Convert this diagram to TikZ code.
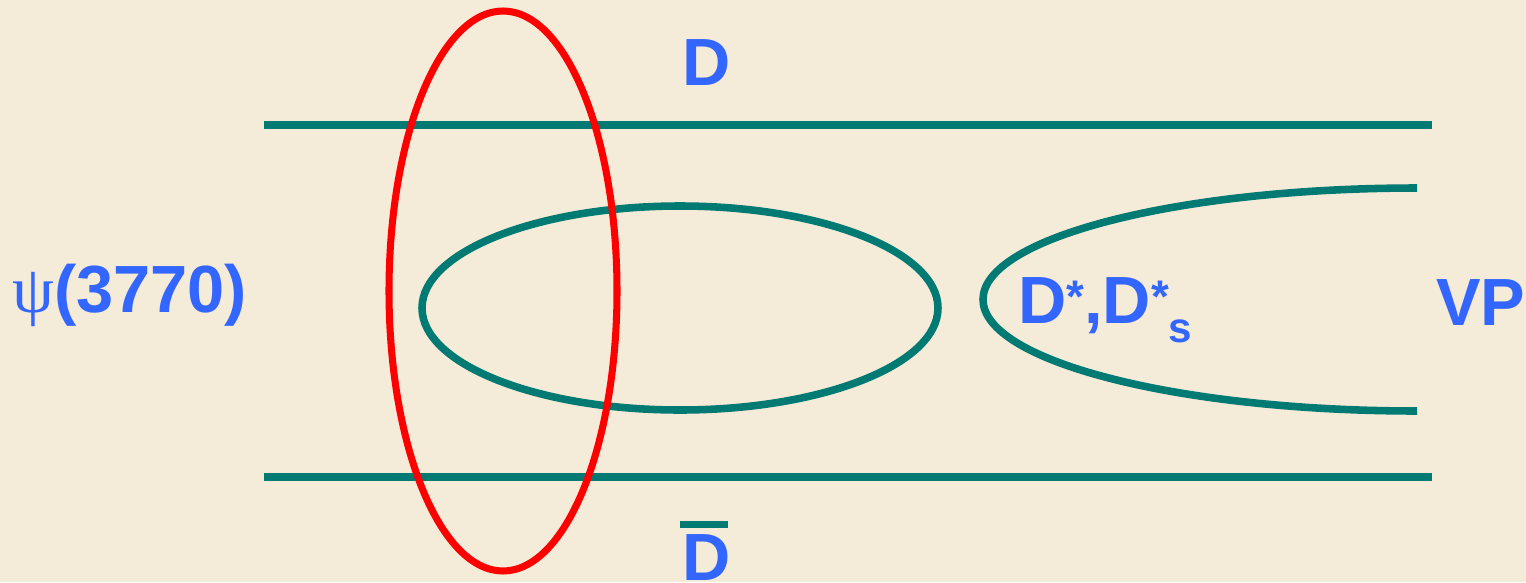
\documentclass[tikz,border=0pt]{standalone}
\usepackage{fontspec}
\setmainfont{Liberation Sans}
\newfontfamily\psifont{Liberation Serif}
\usetikzlibrary{positioning}
\definecolor{parchment}{HTML}{F4EBD9}
\definecolor{chanteal}{HTML}{007A72}
\definecolor{labelblue}{HTML}{3366FF}
\definecolor{tagred}{HTML}{FF0000}
\newcommand{\upstar}{\raisebox{6pt}{\fontsize{26}{26}\selectfont *}}

\begin{document}
\begin{tikzpicture}[x=0.02cm, y=-0.02cm,
  lbl/.style={text=labelblue, inner sep=0pt, font=\fontsize{38}{44}\selectfont\bfseries},
  chan/.style={draw=chanteal, line width=4.3pt},
  tag/.style={draw=tagred, line width=4pt}]
\fill[parchment] (0,0) rectangle (1526,582);
\useasboundingbox (0,0) rectangle (1526,582);
% the two open-charm lines
\draw[chan] (264,125) -- (1432,125);
\draw[chan] (264,477) -- (1432,477);
% rescattering loops
\draw[chan] (680,308) ellipse [x radius=258, y radius=102];
\draw[chan] (1417,188) arc [start angle=270, end angle=90, x radius=434, y radius=111.5];
% cut through the pair
\draw[tag] (503,291) ellipse [x radius=114, y radius=280];
% labels
\node[lbl, anchor=base] (dtop) at (707,85) {D};
\node[lbl, anchor=base] (dbot) at (707,580) {D};
\draw[chanteal, line width=4pt] (680,524.5) -- (728,524.5);
\node[lbl, anchor=base west] (psi) at (12,312) {{\psifont\mdseries ψ}(3770)};
\node[lbl, anchor=base west] (dstar) at (1018,323) {D\upstar,D\upstar\raisebox{-11pt}{\fontsize{24}{24}\selectfont s}};
\node[lbl, anchor=base west] (vp) at (1436,325) {VP};
\end{tikzpicture}
\end{document}
